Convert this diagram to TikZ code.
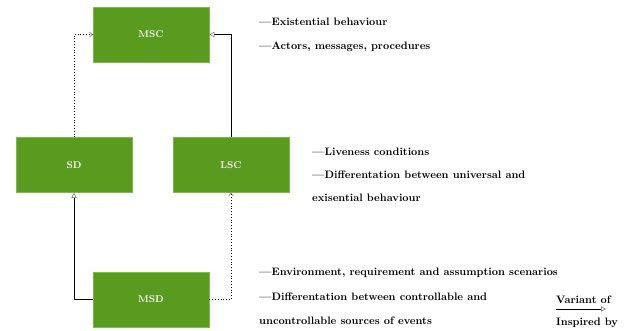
\documentclass[tikz,border=0pt]{standalone}
\usetikzlibrary{arrows.meta}
\definecolor{boxfill}{RGB}{89,155,30}
\definecolor{boxedge}{RGB}{125,185,75}
\definecolor{tipgray}{RGB}{110,110,110}
\tikzset{
  x=1pt, y=-1pt,
  model/.style={draw=boxedge, line width=0.6pt, fill=boxfill, minimum width=116pt, minimum height=55pt,
    text=white, font=\fontsize{9.8}{11}\selectfont\bfseries, inner sep=0pt},
  variant/.style={draw=black, line width=0.8pt, -{Triangle[open, length=5pt, width=5pt, color=tipgray, line width=0.5pt]}},
  inspired/.style={draw=black, line width=0.8pt, dotted, -{Straight Barb[length=3pt, width=5pt, color=tipgray, line width=0.5pt]}},
  note/.style={anchor=base west, inner sep=0pt, font=\fontsize{10.8}{13}\selectfont\bfseries, text=black},
}
\begin{document}
\begin{tikzpicture}
\useasboundingbox (0,0) rectangle (638,330);
% model boxes
\node[model] (msc) at (151,34.5) {MSC};
\node[model] (sd)  at (74,165)   {SD};
\node[model] (lsc) at (231,165)  {LSC};
\node[model] (msd) at (151,299.5) {MSD};
% relations between the models
\draw[inspired] (sd.north) |- (msc.west);
\draw[variant]  (lsc.north) |- (msc.east);
\draw[variant]  (msd.west) -| (sd.south);
\draw[inspired] (msd.east) -| (lsc.south);
% annotations
\node[note] (t1) at (259,25) {---Existential behaviour};
\node[note] (t2) at (259,49) {---Actors, messages, procedures};
\node[note] (t3) at (312,155) {---Liveness conditions};
\node[note] (t4) at (312,178) {---Differentation between universal and};
\node[note] (t5) at (312,201) {exisential behaviour};
\node[note] (t6) at (259,275) {---Environment, requirement and assumption scenarios};
\node[note] (t7) at (259,300) {---Differentation between controllable and};
\node[note] (t8) at (259,324) {uncontrollable sources of events};
% legend
\node[note] (lv) at (556,303) {Variant of};
\node[note] (li) at (556,325) {Inspired by};
\coordinate (lva) at (556,309);
\coordinate (lvb) at (606,309);
\draw[variant] (lva) -- (lvb);
\end{tikzpicture}
\end{document}
